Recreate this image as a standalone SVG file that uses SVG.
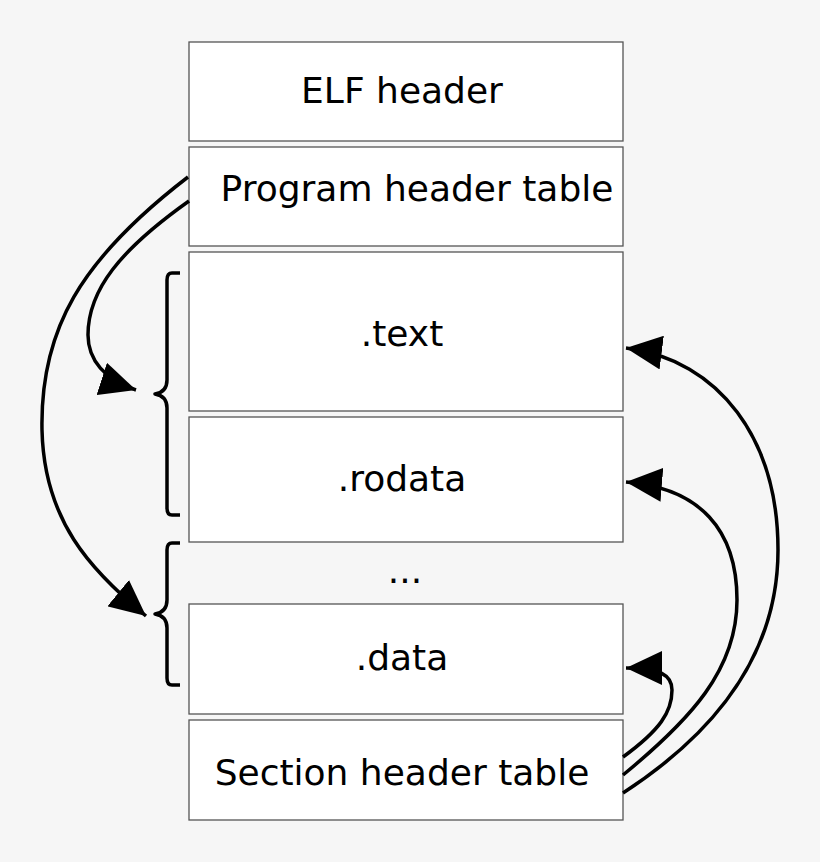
<svg xmlns="http://www.w3.org/2000/svg" width="820" height="862" viewBox="0 0 820 862">
<style>
.box{fill:#fff;stroke:#555;stroke-width:1.3}
.t{font-family:"DejaVu Sans",sans-serif;font-size:36px;fill:#000;text-anchor:middle}
.c{fill:none;stroke:#000;stroke-width:3.5}
.b{fill:none;stroke:#000;stroke-width:3.5;stroke-linejoin:round}
</style>
<defs><marker id="a" markerUnits="userSpaceOnUse" markerWidth="38" markerHeight="34" refX="36" refY="17" orient="auto"><path d="M0,0 L36,17 L0,34 z" fill="#000"/></marker></defs>
<rect width="820" height="862" fill="#f6f6f6"/>
<g id="elf"><rect class="box" x="189" y="42" width="434" height="99"/><text class="t" x="402" y="103">ELF header</text></g>
<g id="pht"><rect class="box" x="189" y="147" width="434" height="99"/><text class="t" x="417" y="201">Program header table</text></g>
<g id="text"><rect class="box" x="189" y="252" width="434" height="159"/><text class="t" x="402" y="346">.text</text></g>
<g id="rodata"><rect class="box" x="189" y="417" width="434" height="125"/><text class="t" x="402" y="491">.rodata</text></g>
<g id="dots"><text class="t" x="405" y="583">...</text></g>
<g id="data"><rect class="box" x="189" y="604" width="434" height="110"/><text class="t" x="402" y="670">.data</text></g>
<g id="sht"><rect class="box" x="189" y="720" width="434" height="100"/><text class="t" x="402" y="785">Section header table</text></g>
<g id="braces">
<path class="b" d="M180,273 H172 Q167,273 167,280 V380 Q167,392 155,394 Q167,396 167,408 V508 Q167,515 172,515 H180"/>
<path class="b" d="M180,543 H172 Q167,543 167,550 V600 Q167,612 155,614 Q167,616 167,628 V678 Q167,685 172,685 H180"/>
</g>
<g id="connectors">
<path class="c" d="M188,177 C80,260 40,330 42,430 C44,520 90,570 146,616" marker-end="url(#a)"/>
<path class="c" d="M189,201 C120,250 88,290 88,335 C88,360 105,380 136,390" marker-end="url(#a)"/>
<path class="c" d="M623,793 C720,730 778,650 778,550 C778,440 720,360 626,348" marker-end="url(#a)"/>
<path class="c" d="M623,775 C690,720 737,670 737,600 C737,530 700,488 626,482" marker-end="url(#a)"/>
<path class="c" d="M623,757 C660,730 672,712 672,690 C672,675 660,668 626,668" marker-end="url(#a)"/>
</g>
</svg>
